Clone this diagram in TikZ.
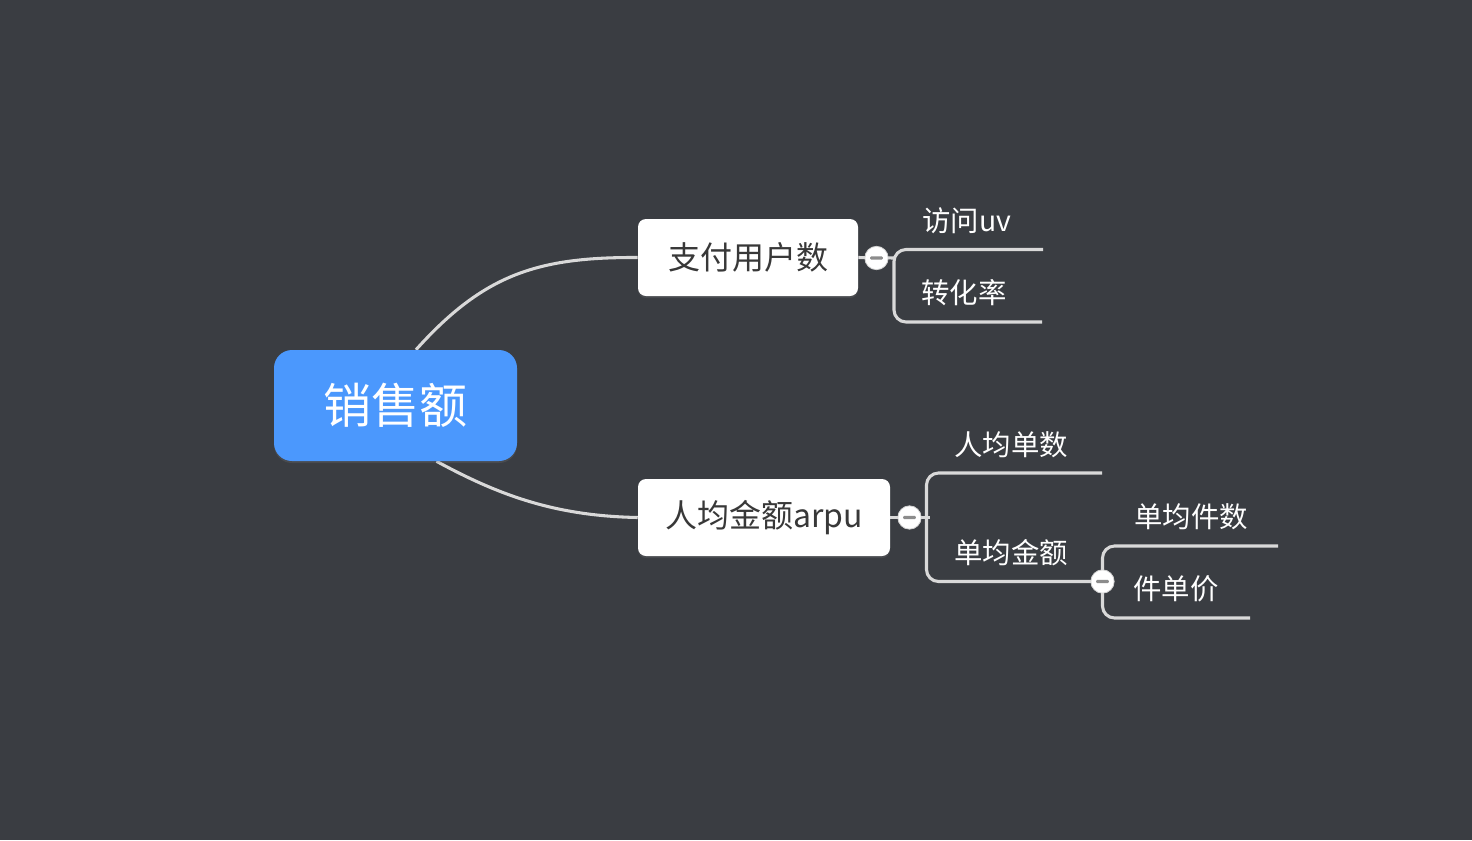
\documentclass[tikz,border=0pt]{standalone}
\usepackage{fontspec}
\setmainfont{Noto Sans CJK SC}
\usetikzlibrary{calc,backgrounds,shadows}

\definecolor{canvas}{HTML}{3A3D42}
\definecolor{rootblue}{HTML}{4B98FD}
\definecolor{branchline}{HTML}{D9D9D9}
\definecolor{boxtext}{HTML}{383838}
\definecolor{minusgrey}{HTML}{8C8C8C}

\tikzset{
  rootbox/.style={fill=rootblue, rounded corners=13.5pt, minimum width=182.25pt,
    minimum height=83.25pt, inner sep=0pt, text=white, font=\fontsize{36}{40}\selectfont,
    drop shadow={opacity=0.22, shadow xshift=0pt, shadow yshift=-1.5pt}},
  topicbox/.style={fill=white, rounded corners=6pt, minimum height=57.75pt,
    inner sep=0pt, text=boxtext, font=\fontsize{24}{28}\selectfont,
    drop shadow={opacity=0.2, shadow xshift=0pt, shadow yshift=-1.5pt}},
  leaf/.style={anchor=west, inner sep=0pt, text=white, font=\fontsize{21.3}{24}\selectfont},
  branch/.style={draw=branchline, line width=2.3pt},
  bracket/.style={branch, rounded corners=9pt},
  fold/.style={circle, fill=white, draw=black!18, line width=0.6pt, minimum size=17.5pt,
    inner sep=0pt,
    path picture={\fill[minusgrey, rounded corners=0.9pt]
      ([xshift=-4.8pt,yshift=-1.3pt]path picture bounding box.center)
      rectangle ++(9.6pt,2.6pt);}},
}

\begin{document}
\begin{tikzpicture}[x=0.75pt, y=-0.75pt]
\path[use as bounding box] (0,0) rectangle (1472,840);

% central topic and its two main branches
\node[rootbox] (root) at (395.5,405.5) {销售额};
\node[topicbox, minimum width=165pt] (pay) at (748,257.5) {支付用户数};
\node[topicbox, minimum width=189pt] (arpu) at (764,517.5) {人均金额arpu};

% fold buttons
\node[fold] (f1) at (876.5,258) {};
\node[fold] (f2) at (909.5,517.5) {};
\node[fold] (f3) at (1102.5,581.5) {};

% junctions and open ends of the brackets
\coordinate (j1) at (894,258);
\coordinate (e1a) at (1043,249.5);
\coordinate (e1b) at (1042,322);
\coordinate (j2) at (926.5,517.5);
\coordinate (j2x) at (930,517.5);
\coordinate (e2a) at (1102,473);
\coordinate (e3a) at (1278,546);
\coordinate (e3b) at (1250,618);

% leaf labels
\node[leaf] (uv) at (922,221) {访问uv};
\node[leaf] (cvr) at (921,293) {转化率};
\node[leaf] (orders) at (954,445) {人均单数};
\node[leaf] (perorder) at (954,553) {单均金额};
\node[leaf] (items) at (1134,517) {单均件数};
\node[leaf] (price) at (1133,589) {件单价};

\begin{pgfonlayer}{background}
  \fill[canvas] (0,0) rectangle (1472,840);

  % curved links from the central topic
  \draw[branch] ($(root.north)+(20.5,0)$) .. controls (484,274) and (538,257) .. (pay.west);
  \draw[branch] ($(root.south)+(41,0)$) .. controls (502,497) and (558,516) .. (arpu.west);

  % first bracket
  \draw[branch] (pay.east) -- (j1);
  \draw[bracket] (e1a) -| (j1 |- e1b) -- (e1b);

  % second bracket
  \draw[branch] (arpu.east) -- (j2x);
  \draw[bracket] (e2a) -| (j2 |- f3) -- (f3.center);

  % third bracket
  \draw[bracket] (e3a) -| (f3 |- e3b) -- (e3b);
\end{pgfonlayer}
\end{tikzpicture}
\end{document}
